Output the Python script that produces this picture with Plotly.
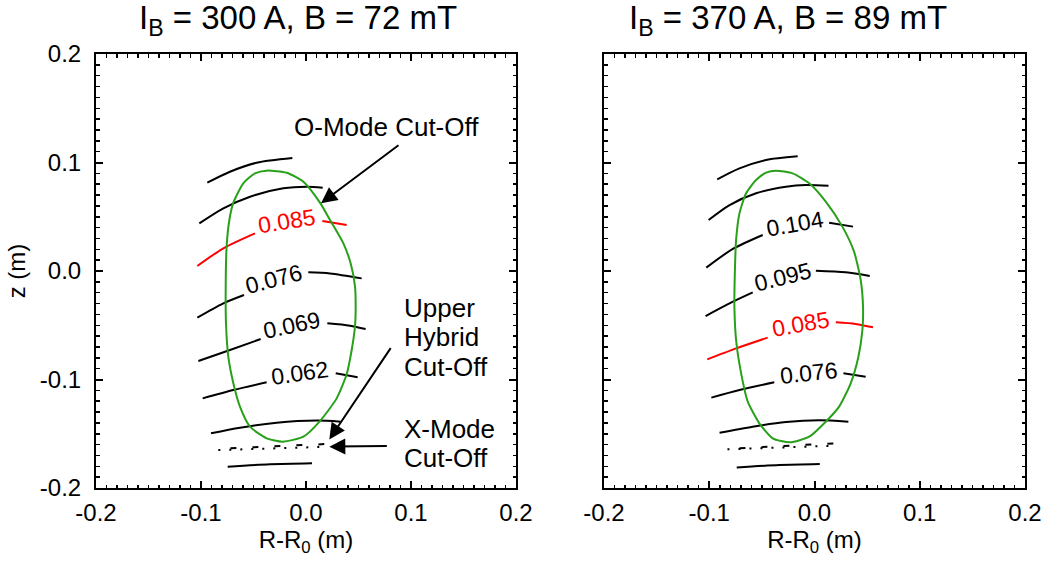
import plotly.graph_objects as go

# ---------------- data ----------------
tick_vals = [-0.2, -0.1, 0.0, 0.1, 0.2]
tick_text = ["-0.2", "-0.1", "0.0", "0.1", "0.2"]

titles = ["I<sub>B</sub> = 300 A, B = 72 mT", "I<sub>B</sub> = 370 A, B = 89 mT"]
highlight_label = "0.085"

# Last closed flux surface (green)
left_surf_R = [-0.0375, -0.0184, -0.0025, 0.0133, 0.0229, 0.0356, 0.0425, 0.0467, 0.0473, 0.0467,
               0.0435, 0.0387, 0.0292, 0.0133, -0.0025, -0.0222, -0.0375, -0.0533, -0.0629, -0.0692,
               -0.0740, -0.0762, -0.0765, -0.0756, -0.0730, -0.0692, -0.0597, -0.0486, -0.0375]
left_surf_z = [0.0925, 0.0906, 0.0823, 0.0630, 0.0470, 0.0255, 0.0071, -0.0144, -0.0329, -0.0507,
               -0.0728, -0.0952, -0.1174, -0.1383, -0.1527, -0.1573, -0.1542, -0.1435, -0.1250, -0.1035,
               -0.0790, -0.0482, -0.0175, 0.0224, 0.0470, 0.0630, 0.0808, 0.0900, 0.0925]
right_surf_R = [-0.0366, -0.0208, -0.0050, 0.0107, 0.0265, 0.0376, 0.0439, 0.0461, 0.0455, 0.0417,
                0.0344, 0.0234, 0.0107, -0.0050, -0.0233, -0.0397, -0.0524, -0.0634, -0.0697, -0.0745,
                -0.0761, -0.0757, -0.0745, -0.0713, -0.0650, -0.0555, -0.0460, -0.0366]
right_surf_z = [0.0925, 0.0900, 0.0808, 0.0639, 0.0409, 0.0178, -0.0083, -0.0329, -0.0544, -0.0790,
                -0.1035, -0.1250, -0.1389, -0.1527, -0.1579, -0.1542, -0.1404, -0.1204, -0.0943, -0.0636,
                -0.0329, -0.0022, 0.0286, 0.0531, 0.0716, 0.0839, 0.0906, 0.0925]

# Cyclotron-harmonic contours (None = gap left for the inline label)
left_contour_R = [
    [-0.0940, -0.0724, -0.0470, -0.0130],
    [-0.1016, -0.0787, -0.0533, -0.0216, 0.0006, 0.0159],
    [-0.1035, -0.0787, -0.0486, None, 0.0156, 0.0387],
    [-0.1035, -0.0787, -0.0590, None, 0.0022, 0.0229, 0.0530],
    [-0.1025, -0.0724, -0.0432, None, 0.0203, 0.0419, 0.0568],
    [-0.0984, -0.0692, -0.0375, None, 0.0283, 0.0492],
    [-0.0905, -0.0629, -0.0279, 0.0102, 0.0330],
    [-0.0746, -0.0343, 0.0057],
]
left_contour_z = [
    [0.0814, 0.0915, 0.0998, 0.1041],
    [0.0439, 0.0578, 0.0685, 0.0762, 0.0777, 0.0768],
    [0.0046, 0.0209, 0.0347, None, 0.0461, 0.0424],
    [-0.0430, -0.0298, -0.0221, None, -0.0012, -0.0022, -0.0068],
    [-0.0829, -0.0728, -0.0627, None, -0.0482, -0.0504, -0.0535],
    [-0.1174, -0.1097, -0.1026, None, -0.0943, -0.0980],
    [-0.1496, -0.1444, -0.1398, -0.1379, -0.1389],
    [-0.1803, -0.1782, -0.1773],
]
left_contour_labels = [None, None, "0.085", "0.076", "0.069", "0.062", None, None]

right_contour_R = [
    [-0.0924, -0.0713, -0.0460, -0.0160],
    [-0.1006, -0.0807, -0.0555, -0.0271, -0.0082, 0.0133],
    [-0.1028, -0.0776, -0.0492, None, 0.0139, 0.0366],
    [-0.1035, -0.0808, -0.0587, None, 0.0013, 0.0297, 0.0525],
    [-0.1019, -0.0744, -0.0445, None, 0.0202, 0.0391, 0.0556],
    [-0.0980, -0.0713, -0.0382, None, 0.0275, 0.0486],
    [-0.0902, -0.0587, -0.0271, 0.0044, 0.0322],
    [-0.0739, -0.0334, 0.0050],
]
right_contour_z = [
    [0.0845, 0.0946, 0.1023, 0.1057],
    [0.0470, 0.0608, 0.0716, 0.0777, 0.0793, 0.0786],
    [0.0031, 0.0203, 0.0332, None, 0.0445, 0.0409],
    [-0.0415, -0.0298, -0.0197, None, 0.0003, -0.0012, -0.0046],
    [-0.0814, -0.0713, -0.0614, None, -0.0473, -0.0488, -0.0519],
    [-0.1167, -0.1097, -0.1026, None, -0.0943, -0.0974],
    [-0.1490, -0.1435, -0.1392, -0.1376, -0.1389],
    [-0.1810, -0.1788, -0.1779],
]
right_contour_labels = [None, None, "0.104", "0.095", "0.085", "0.076", None, None]

# Upper-hybrid (dashed) and X-mode (dotted) cut-offs
left_uh_R, left_uh_z = [-0.0720, 0.0210], [-0.1634, -0.1594]
left_x_R, left_x_z = [-0.0835, 0.0210], [-0.1650, -0.1620]
right_uh_R, right_uh_z = [-0.0713, 0.0196], [-0.1634, -0.1588]
right_x_R, right_x_z = [-0.0827, 0.0196], [-0.1644, -0.1610]

# ---------------- layout helpers ----------------
FONT = "Liberation Sans, Arial, Helvetica, sans-serif"
W, H = 1045, 563
GREEN = "rgb(40,160,25)"


def px_x(p):
    return p / W


def px_y(p):
    return 1 - p / H


# label placement (R, z, angle) for each labelled contour
left_label_pos = {"0.085": (-0.0178, 0.0461, -9), "0.076": (-0.0302, -0.0077, -15),
                  "0.069": (-0.0130, -0.0501, -12), "0.062": (-0.0054, -0.0940, -8)}
right_label_pos = {"0.104": (-0.0189, 0.0436, -10), "0.095": (-0.0303, -0.0052, -14),
                   "0.085": (-0.0129, -0.0488, -10), "0.076": (-0.0057, -0.0943, -6)}

fig = go.Figure()
annotations = []

panels = [
    ("x", "y", left_surf_R, left_surf_z, left_contour_R, left_contour_z, left_contour_labels,
     left_label_pos, (left_uh_R, left_uh_z), (left_x_R, left_x_z)),
    ("x2", "y2", right_surf_R, right_surf_z, right_contour_R, right_contour_z, right_contour_labels,
     right_label_pos, (right_uh_R, right_uh_z), (right_x_R, right_x_z)),
]

for xa, ya, sR, sz, cR, cz, labels, lpos, uh, xm in panels:
    for R, z, lab in zip(cR, cz, labels):
        color = "red" if lab == highlight_label else "black"
        fig.add_trace(go.Scatter(x=R, y=z, mode="lines", xaxis=xa, yaxis=ya,
                                 line=dict(color=color, width=2, shape="spline", smoothing=0.8),
                                 connectgaps=False, showlegend=False, hoverinfo="skip"))
        if lab is not None:
            lx, ly, ang = lpos[lab]
            annotations.append(dict(x=lx, y=ly, xref=xa, yref=ya, text=lab, showarrow=False,
                                    textangle=ang, xanchor="center", yanchor="middle",
                                    font=dict(family=FONT, size=23, color=color)))
    fig.add_trace(go.Scatter(x=uh[0], y=uh[1], mode="lines", xaxis=xa, yaxis=ya,
                             line=dict(color="black", width=2, dash="6px,16px"),
                             showlegend=False, hoverinfo="skip"))
    fig.add_trace(go.Scatter(x=xm[0], y=xm[1], mode="lines", xaxis=xa, yaxis=ya,
                             line=dict(color="black", width=2, dash="2px,9px"),
                             showlegend=False, hoverinfo="skip"))
    fig.add_trace(go.Scatter(x=sR, y=sz, mode="lines", xaxis=xa, yaxis=ya,
                             line=dict(color=GREEN, width=2, shape="spline", smoothing=0.6),
                             showlegend=False, hoverinfo="skip"))

# text callouts (left panel)
callout_font = dict(family=FONT, size=26, color="black")
annotations.append(dict(x=0.0771, y=0.1323, xref="x", yref="y", text="O-Mode Cut-Off",
                        showarrow=False, xanchor="center", yanchor="middle", font=callout_font))
for txt, yy in [("Upper", -0.0338), ("Hybrid", -0.0608), ("Cut-Off", -0.0882),
                ("X-Mode", -0.1459), ("Cut-Off", -0.1726)]:
    annotations.append(dict(x=0.0914, y=yy, xref="x", yref="y", text=txt, showarrow=False,
                            xanchor="left", yanchor="middle", font=callout_font))
# arrows: (head R, head z, tail R, tail z)
for hx, hy, tx, ty in [(0.0143, 0.0624, 0.0895, 0.1170),
                       (0.0222, -0.1552, 0.0816, -0.0697),
                       (0.0222, -0.1619, 0.0784, -0.1613)]:
    annotations.append(dict(x=hx, y=hy, ax=tx, ay=ty, xref="x", yref="y", axref="x", ayref="y",
                            text="", showarrow=True, arrowhead=2, arrowsize=1.6, arrowwidth=2,
                            arrowcolor="black"))

# panel titles
for t, cx in zip(titles, [px_x(297.5), px_x(788)]):
    annotations.append(dict(x=cx, y=px_y(20), xref="paper", yref="paper", text=t,
                            showarrow=False, xanchor="center", yanchor="middle",
                            font=dict(family=FONT, size=33, color="black")))

ydom = [px_y(488), px_y(54)]
common = dict(range=[-0.2, 0.2], tickmode="array", tickvals=tick_vals, ticktext=tick_text,
              ticks="inside", ticklen=7, tickwidth=2, tickcolor="black",
              showline=True, linewidth=2, linecolor="black", mirror="allticks",
              showgrid=False, zeroline=False, automargin=False,
              minor=dict(dtick=0.01, tick0=0, ticks="inside", ticklen=3.5, tickwidth=1.5,
                         tickcolor="black", showgrid=False),
              tickfont=dict(family=FONT, size=24, color="black"))
title_font = dict(family=FONT, size=24, color="black")

fig.update_layout(
    template="none",
    width=W, height=H, margin=dict(l=0, r=0, t=0, b=0, autoexpand=False),
    paper_bgcolor="white", plot_bgcolor="white",
    xaxis=dict(domain=[px_x(96), px_x(516)], anchor="y", **common, ticklabelstandoff=2,
               title=dict(text="R-R<sub>0</sub> (m)", font=title_font, standoff=6)),
    yaxis=dict(domain=ydom, anchor="x", **common, ticklabelstandoff=8,
               title=dict(text="z (m)", font=title_font, standoff=7)),
    xaxis2=dict(domain=[px_x(604), px_x(1025)], anchor="y2", **common, ticklabelstandoff=2,
                title=dict(text="R-R<sub>0</sub> (m)", font=title_font, standoff=6)),
    yaxis2=dict(domain=ydom, anchor="x2", **common, showticklabels=False),
    annotations=annotations,
)

fig.write_html("out.html", config={"displayModeBar": False, "staticPlot": True},
               post_script="document.body.style.margin='0';document.body.style.overflow='hidden';")
